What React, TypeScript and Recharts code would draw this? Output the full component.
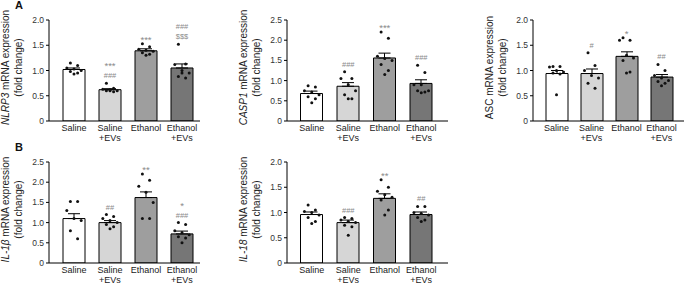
import React from "react";
import { Bar, Cell, ComposedChart, ErrorBar, Scatter, XAxis, YAxis } from "recharts";

const FONT = '"Liberation Sans", Arial, sans-serif';

const GROUPS = ["Saline", "Saline\n+EVs", "Ethanol", "Ethanol\n+EVs"];
const FILLS = ["#ffffff", "#d6d6d6", "#9e9e9e", "#767676"];

// NLRP3
const NLRP3_MEAN = [1.02, 0.62, 1.39, 1.05];
const NLRP3_SEM = [0.03, 0.02, 0.04, 0.08];
const NLRP3_POINTS = [
  [1.15, 1.1, 1.05, 1.03, 1.0, 0.98, 0.95, 0.93],
  [0.75, 0.65, 0.63, 0.62, 0.6, 0.6, 0.58, 0.6],
  [1.53, 1.47, 1.42, 1.4, 1.38, 1.35, 1.32, 1.3],
  [1.52, 1.13, 1.12, 1.0, 0.95, 0.88, 0.85, 0.95],
];
const NLRP3_MARKS = [[], ["***", "###"], ["***"], ["###", "$$$"]];

// CASP1
const CASP1_MEAN = [0.68, 0.86, 1.56, 0.93];
const CASP1_SEM = [0.06, 0.09, 0.12, 0.09];
const CASP1_POINTS = [
  [0.87, 0.84, 0.75, 0.72, 0.65, 0.6, 0.55, 0.45],
  [1.22, 1.05, 1.05, 0.9, 0.75, 0.65, 0.55, 0.55],
  [2.2, 2.05, 1.6, 1.55, 1.5, 1.4, 1.25, 1.15],
  [1.38, 1.2, 0.9, 0.9, 0.75, 0.75, 0.72, 0.7],
];
const CASP1_MARKS = [[], ["###"], ["***"], ["###"]];

// ASC
const ASC_MEAN = [0.94, 0.94, 1.28, 0.87];
const ASC_SEM = [0.06, 0.09, 0.09, 0.05];
const ASC_POINTS = [
  [1.08, 1.08, 1.07, 1.0, 0.97, 0.95, 0.93, 0.52],
  [1.35, 1.1, 1.0, 0.9, 0.85, 0.75, 0.65],
  [1.65, 1.6, 1.6, 1.3, 1.25, 1.2, 0.97, 0.95],
  [1.12, 1.0, 0.9, 0.85, 0.8, 0.78, 0.75, 0.7],
];
const ASC_MARKS = [[], ["#"], ["*"], ["##"]];

// IL-1β
const IL1B_MEAN = [1.1, 1.0, 1.62, 0.72];
const IL1B_SEM = [0.12, 0.05, 0.14, 0.07];
const IL1B_POINTS = [
  [1.52, 1.52, 1.3, 1.1, 1.05, 0.8, 0.6],
  [1.2, 1.15, 1.1, 1.05, 1.0, 0.95, 0.9, 0.85],
  [2.2, 2.05, 1.9, 1.75, 1.5, 1.1, 1.1],
  [1.0, 0.95, 0.8, 0.75, 0.7, 0.65, 0.62, 0.5],
];
const IL1B_MARKS = [[], ["##"], ["**"], ["*", "###"]];

// IL-18
const IL18_MEAN = [0.96, 0.8, 1.28, 0.96];
const IL18_SEM = [0.05, 0.05, 0.09, 0.05];
const IL18_POINTS = [
  [1.15, 1.05, 1.02, 1.0, 0.95, 0.9, 0.82, 0.78],
  [0.9, 0.88, 0.85, 0.82, 0.8, 0.75, 0.72, 0.55],
  [1.65, 1.5, 1.42, 1.35, 1.3, 1.25, 1.05, 0.95],
  [1.12, 1.12, 1.0, 0.98, 0.95, 0.9, 0.85, 0.82],
];
const IL18_MARKS = [[], ["###"], ["**"], ["##"]];

const TICKS_2 = [0, 0.5, 1, 1.5, 2];
const TICKS_25 = [0, 0.5, 1, 1.5, 2, 2.5];

// spread of dots inside a bar, in category units
const JITTER = [-0.1, 0.1, -0.2, 0, 0.2, -0.1, 0.1, 0];

const CatTick = ({ x, y, payload }: any) => {
  const lines = String(payload.value).split("\n");
  return (
    <text x={x} y={y} textAnchor="middle" fontSize={9} fill="#222" fontFamily={FONT}>
      {lines.map((l, i) => (
        <tspan key={i} x={x} dy={i === 0 ? 9.5 : 10.5}>
          {l}
        </tspan>
      ))}
    </text>
  );
};

const YTitle = ({ viewBox, gene, italic }: any) => {
  if (!viewBox) return null;
  const right = viewBox.x + viewBox.width;
  const cy = viewBox.y + viewBox.height / 2 - 3;
  const x1 = right - 44;
  const x2 = right - 30.5;
  return (
    <g fontFamily={FONT} fontSize={10} fill="#222">
      <text x={x1} y={cy} textAnchor="middle" dominantBaseline="central" transform={`rotate(-90 ${x1} ${cy})`}>
        <tspan fontStyle={italic ? "italic" : "normal"}>{gene}</tspan>
        <tspan> mRNA expression</tspan>
      </text>
      <text x={x2} y={cy} textAnchor="middle" dominantBaseline="central" transform={`rotate(-90 ${x2} ${cy})`}>
        (fold change)
      </text>
    </g>
  );
};

const Marks = ({ cx, cy, payload }: any) => {
  const lines: string[] = payload.lines;
  const n = lines.length;
  return (
    <g fontFamily={FONT} fill="#8a8a8a" textAnchor="middle">
      {lines.map((l, i) => {
        const star = l.startsWith("*");
        const base = cy - 3 - (n - 1 - i) * 10 + (star ? (n > 1 ? 1 : 4) : 0);
        return (
          <text key={i} x={cx} y={base} fontSize={star ? 9.5 : 7.5}>
            {l}
          </text>
        );
      })}
    </g>
  );
};

const Dot = ({ cx, cy }: any) => <circle cx={cx} cy={cy} r={1.5} fill="#111" />;

type PanelProps = {
  left: number;
  top: number;
  width: number;
  padL: number;
  padR: number;
  max: number;
  ticks: number[];
  gene: string;
  italic: boolean;
  mean: number[];
  sem: number[];
  points: number[][];
  marks: string[][];
};

function Panel(p: PanelProps) {
  const rows = GROUPS.map((g, i) => ({ group: g, mean: p.mean[i], err: [0, p.sem[i]] }));
  const dots = p.points.flatMap((vals, gi) => vals.map((v, j) => ({ x: gi + JITTER[j % JITTER.length], y: v })));
  const marks = p.marks
    .map((lines, gi) => ({
      x: gi,
      y: Math.max(...p.points[gi], p.mean[gi] + p.sem[gi]) + p.max * 0.02,
      lines,
    }))
    .filter((m) => m.lines.length > 0);

  return (
    <div style={{ position: "absolute", left: p.left, top: p.top }}>
      <ComposedChart width={p.width} height={145} data={rows} margin={{ top: 20, right: 0, bottom: 0, left: 0 }}>
        <XAxis
          xAxisId="cat"
          dataKey="group"
          interval={0}
          tick={<CatTick />}
          tickLine={false}
          tickSize={0}
          tickMargin={0}
          height={24}
          axisLine={{ stroke: "#000", strokeWidth: 1 }}
          padding={{ left: p.padL, right: p.padR }}
        />
        <XAxis
          xAxisId="num"
          type="number"
          dataKey="x"
          domain={[-0.5, 3.5]}
          allowDataOverflow
          hide
          height={24}
          padding={{ left: p.padL, right: p.padR }}
        />
        <YAxis
          domain={[0, p.max]}
          ticks={p.ticks}
          allowDataOverflow
          width={49}
          tickSize={3}
          tickMargin={2}
          interval={0}
          tickFormatter={(v: number) => (v === 0 ? "0" : v.toFixed(1))}
          tick={{ fontSize: 8.5, fill: "#333", fontFamily: FONT }}
          tickLine={{ stroke: "#000" }}
          axisLine={{ stroke: "#000", strokeWidth: 1 }}
          label={<YTitle gene={p.gene} italic={p.italic} />}
        />
        <Bar xAxisId="cat" dataKey="mean" barSize={22} stroke="#000" strokeWidth={1} isAnimationActive={false}>
          {rows.map((r, i) => (
            <Cell key={r.group} fill={FILLS[i]} />
          ))}
          <ErrorBar dataKey="err" width={6} stroke="#000" strokeWidth={1} direction="y" />
        </Bar>
        <Scatter xAxisId="num" data={dots} dataKey="y" shape={<Dot />} isAnimationActive={false} />
        <Scatter xAxisId="num" data={marks} dataKey="y" shape={<Marks />} isAnimationActive={false} />
      </ComposedChart>
    </div>
  );
}

export default function App() {
  return (
    <div
      style={{
        position: "fixed",
        left: 0,
        top: 0,
        width: 686,
        height: 286,
        background: "#fff",
        overflow: "hidden",
        fontFamily: FONT,
      }}
    >
      <div style={{ position: "absolute", left: 15, top: -1, fontSize: 11, fontWeight: "bold", color: "#111" }}>A</div>
      <div style={{ position: "absolute", left: 15, top: 141, fontSize: 11, fontWeight: "bold", color: "#111" }}>B</div>
      <Panel left={0} top={0} width={200} padL={7} padR={0} max={2} ticks={TICKS_2} gene="NLRP3" italic
        mean={NLRP3_MEAN} sem={NLRP3_SEM} points={NLRP3_POINTS} marks={NLRP3_MARKS} />
      <Panel left={238} top={0} width={210} padL={6.5} padR={8.5} max={2.5} ticks={TICKS_25} gene="CASP1" italic
        mean={CASP1_MEAN} sem={CASP1_SEM} points={CASP1_POINTS} marks={CASP1_MARKS} />
      <Panel left={484} top={0} width={200} padL={6} padR={5} max={2} ticks={TICKS_2} gene="ASC" italic={false}
        mean={ASC_MEAN} sem={ASC_SEM} points={ASC_POINTS} marks={ASC_MARKS} />
      <Panel left={0} top={142} width={200} padL={7} padR={0} max={2.5} ticks={TICKS_25} gene="IL-1β" italic
        mean={IL1B_MEAN} sem={IL1B_SEM} points={IL1B_POINTS} marks={IL1B_MARKS} />
      <Panel left={238} top={142} width={210} padL={6.5} padR={8.5} max={2} ticks={TICKS_2} gene="IL-18" italic
        mean={IL18_MEAN} sem={IL18_SEM} points={IL18_POINTS} marks={IL18_MARKS} />
    </div>
  );
}
